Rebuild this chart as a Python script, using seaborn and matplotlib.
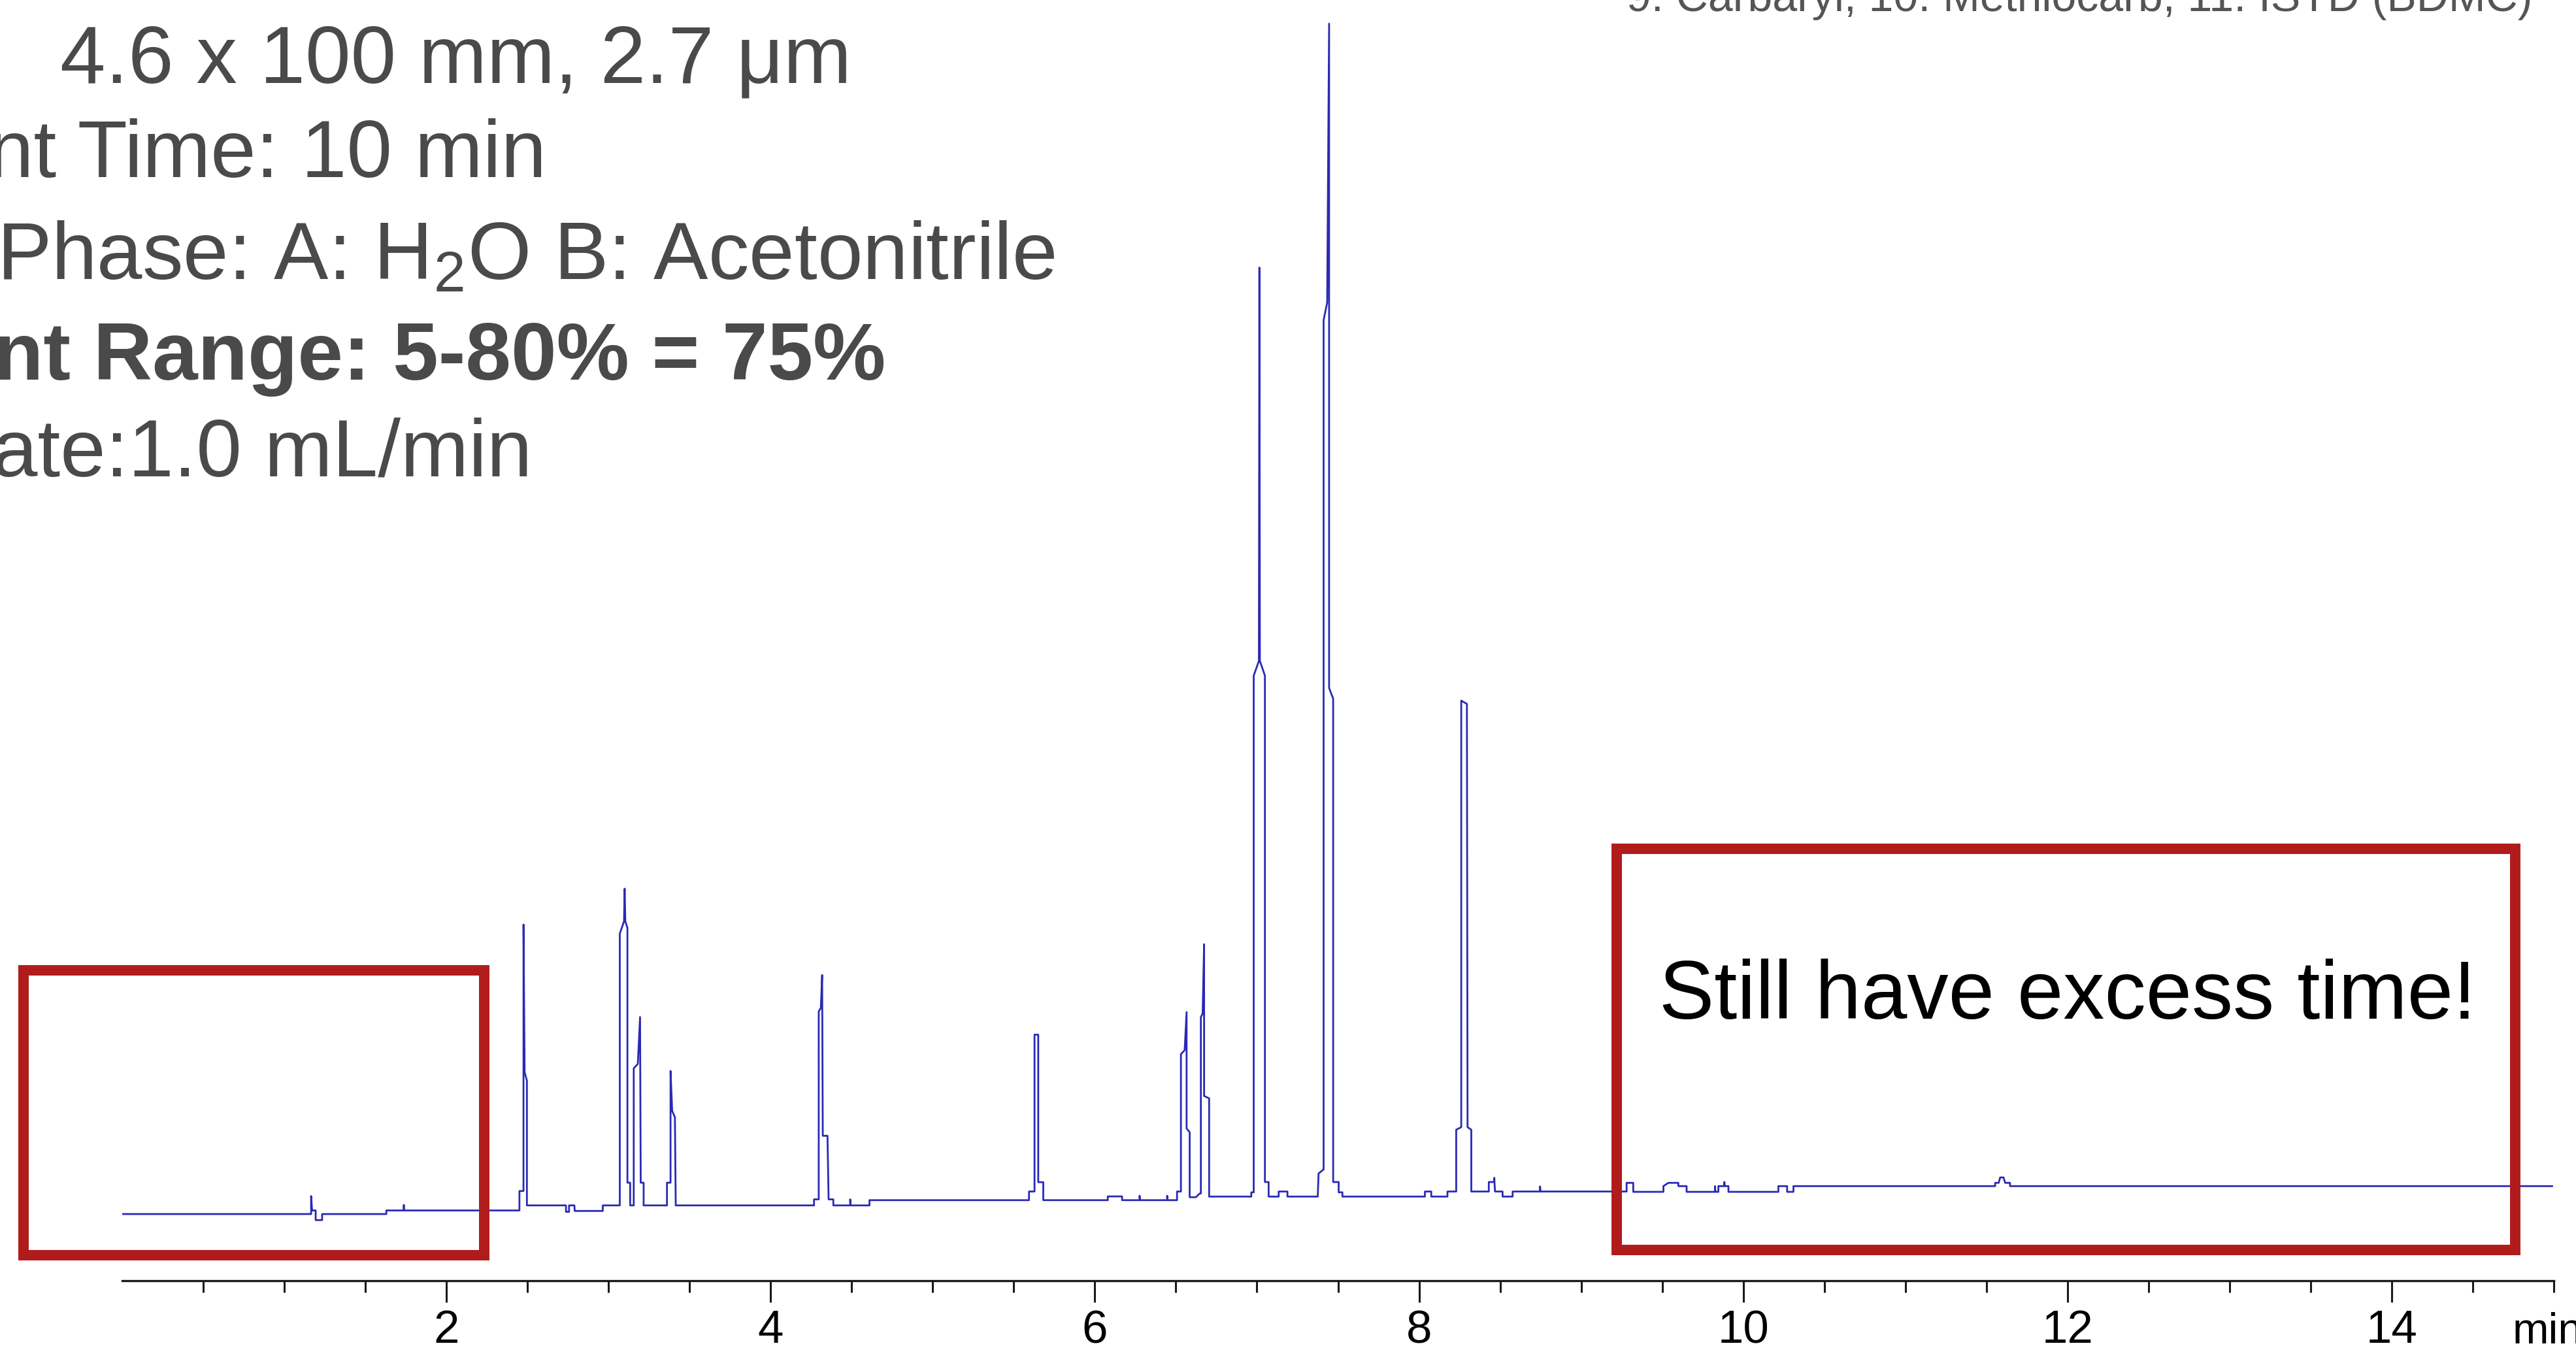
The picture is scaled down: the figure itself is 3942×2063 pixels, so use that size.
import matplotlib
matplotlib.use("Agg")
import matplotlib.pyplot as plt
import seaborn as sns
from matplotlib.patches import Rectangle

# chromatogram trace (minutes, detector signal)
time_min = [
    0.000, 1.166, 1.166, 1.172, 1.194, 1.194, 1.234, 1.234, 1.630, 1.630,
    1.736, 1.738, 1.740, 2.451, 2.451, 2.476, 2.476, 2.483, 2.497, 2.497,
    2.738, 2.738, 2.757, 2.757, 2.790, 2.792, 2.965, 2.965, 3.070, 3.070,
    3.096, 3.100, 3.104, 3.117, 3.117, 3.134, 3.134, 3.156, 3.156, 3.181,
    3.195, 3.199, 3.217, 3.217, 3.361, 3.361, 3.383, 3.383, 3.393, 3.410,
    3.415, 4.268, 4.268, 4.297, 4.297, 4.310, 4.318, 4.322, 4.351, 4.358,
    4.387, 4.387, 4.491, 4.491, 4.494, 4.610, 4.610, 5.594, 5.594, 5.628,
    5.628, 5.651, 5.651, 5.682, 5.682, 6.080, 6.080, 6.168, 6.168, 6.276,
    6.276, 6.279, 6.446, 6.446, 6.449, 6.507, 6.507, 6.531, 6.531, 6.554,
    6.566, 6.566, 6.585, 6.585, 6.623, 6.647, 6.654, 6.654, 6.665, 6.674,
    6.674, 6.705, 6.705, 6.965, 6.965, 6.980, 6.980, 7.012, 7.015, 7.018,
    7.049, 7.049, 7.072, 7.072, 7.134, 7.134, 7.188, 7.188, 7.375, 7.380,
    7.411, 7.411, 7.433, 7.445, 7.445, 7.470, 7.470, 7.504, 7.504, 7.527,
    7.527, 8.036, 8.036, 8.075, 8.075, 8.175, 8.175, 8.229, 8.229, 8.260,
    8.260, 8.295, 8.299, 8.322, 8.322, 8.430, 8.430, 8.462, 8.464, 8.468,
    8.515, 8.515, 8.577, 8.577, 8.746, 8.746, 8.749, 9.280, 9.280, 9.321,
    9.321, 9.507, 9.507, 9.537, 9.599, 9.599, 9.650, 9.650, 9.825, 9.825,
    9.828, 9.846, 9.846, 9.880, 9.883, 9.886, 9.908, 9.908, 10.216, 10.216,
    10.270, 10.270, 10.309, 10.309, 11.553, 11.553, 11.575, 11.584, 11.605, 11.615,
    11.645, 11.645, 14.990,
]
signal = [
    40.8, 40.8, 51.8, 43.0, 43.0, 37.1, 37.1, 40.8, 40.8, 43.0,
    43.0, 46.4, 43.0, 43.0, 54.9, 54.9, 218.0, 127.6, 122.5, 46.1,
    46.1, 42.2, 42.2, 46.1, 46.1, 42.7, 42.7, 46.1, 46.1, 212.5,
    220.0, 240.0, 220.0, 216.0, 60.0, 60.0, 46.1, 46.1, 130.0, 132.7,
    161.4, 60.0, 60.0, 46.1, 46.1, 60.0, 60.0, 128.4, 104.0, 100.0,
    46.1, 46.1, 49.8, 49.8, 164.8, 167.0, 187.1, 88.7, 88.7, 49.8,
    49.8, 46.1, 46.1, 49.8, 46.1, 46.1, 49.3, 49.3, 54.6, 54.6,
    150.6, 150.6, 60.3, 60.3, 49.3, 49.3, 51.6, 51.6, 49.3, 49.3,
    52.0, 49.3, 49.3, 52.0, 49.3, 49.3, 54.6, 54.6, 138.7, 141.1,
    164.4, 93.2, 90.9, 51.1, 51.1, 53.4, 53.4, 161.3, 163.6, 206.0,
    113.1, 111.6, 51.5, 51.5, 54.1, 54.1, 370.4, 379.4, 620.2, 379.4,
    370.4, 60.4, 60.4, 51.5, 51.5, 54.6, 54.6, 51.5, 51.5, 65.6,
    68.1, 588.0, 598.8, 769.5, 362.8, 356.4, 60.4, 60.4, 54.1, 54.1,
    51.5, 51.5, 54.6, 54.6, 51.5, 51.5, 54.6, 54.6, 92.4, 94.0,
    355.1, 353.1, 94.0, 92.4, 54.6, 54.6, 60.4, 60.4, 63.0, 54.6,
    54.6, 51.5, 51.5, 54.6, 54.6, 57.7, 54.6, 54.6, 59.9, 59.9,
    54.4, 54.4, 57.9, 59.9, 59.9, 57.9, 57.9, 54.4, 54.4, 57.9,
    54.4, 54.4, 57.9, 57.9, 60.5, 57.9, 57.9, 54.4, 54.4, 57.9,
    57.9, 54.4, 54.4, 57.9, 57.9, 59.9, 59.9, 63.2, 63.2, 59.9,
    59.9, 57.9, 57.9,
]

major_ticks = [2, 4, 6, 8, 10, 12, 14]
tick_labels = ["2", "4", "6", "8", "10", "12", "14"]
minor_ticks = [0.5, 1, 1.5, 2.5, 3, 3.5, 4.5, 5, 5.5, 6.5, 7, 7.5, 8.5, 9, 9.5,
               10.5, 11, 11.5, 12.5, 13, 13.5, 14.5, 15]

info_lines = [
    "4.6 x 100 mm, 2.7 \u03bcm",
    "nt Time: 10 min",
    "Phase: A: H$_\\mathrm{2}$O B: Acetonitrile",
    "nt Range: 5-80% = 75%",
    "ate:1.0 mL/min",
]
legend_text = "9. Carbaryl, 10. Methiocarb, 11. ISTD (BDMC)"
callout = "Still have excess time!"

W, H = 3942, 2063

sns.set_style("white")
plt.rcParams["font.family"] = ["Liberation Sans", "DejaVu Sans"]
plt.rcParams["mathtext.fontset"] = "custom"
plt.rcParams["mathtext.rm"] = "Liberation Sans"
plt.rcParams["mathtext.it"] = "Liberation Sans:italic"
plt.rcParams["mathtext.bf"] = "Liberation Sans:bold"

fig = plt.figure(figsize=(W / 100, H / 100), dpi=100)
ax = fig.add_axes([186.8 / W, 103 / H, 3721.5 / W, 1960 / H])

sns.lineplot(x=time_min, y=signal, sort=False, estimator=None,
             color="#2a2ab4", linewidth=2.0, ax=ax)

ax.set_xlim(0, 15)
ax.set_ylim(0, 784)
for side in ["left", "right", "top"]:
    ax.spines[side].set_visible(False)
ax.spines["bottom"].set_linewidth(2.4)
ax.spines["bottom"].set_color("#1a1a1a")
ax.set_yticks([])
ax.set_xticks(major_ticks)
ax.set_xticklabels(tick_labels, fontsize=51)
ax.set_xticks(minor_ticks, minor=True)
ax.tick_params(axis="x", which="both", bottom=True, direction="out",
               color="#1a1a1a", width=2.2)
ax.tick_params(axis="x", which="major", length=24, pad=8, labelcolor="black")
ax.tick_params(axis="x", which="minor", length=13)
ax.set_xlabel("")
ax.set_ylabel("")

# red call-out boxes
box_red = "#b01c1c"
ax.add_patch(Rectangle((-0.609, 15.6), 2.842, 174.4, fill=False,
                       edgecolor=box_red, linewidth=11.5, joinstyle="miter",
                       clip_on=False, zorder=3))
ax.add_patch(Rectangle((9.219, 18.8), 5.541, 245.6, fill=False,
                       edgecolor=box_red, linewidth=11.5, joinstyle="miter",
                       clip_on=False, zorder=3))
ax.text(9.481, 160.4, callout, fontsize=91, color="black",
        ha="left", va="baseline")

# method text, cut off at the left edge
text_x = [92, -18, -5, -10, -12]
text_y = [127, 271, 427, 581, 728]
for i, line in enumerate(info_lines):
    fig.text(text_x[i] / W, 1 - text_y[i] / H, line, fontsize=90,
             color="#4a4a4a", ha="left", va="baseline",
             fontweight="bold" if i == 3 else "normal")

# compound list, cut off at the top edge
fig.text(2489 / W, 1 - 17 / H, legend_text, fontsize=49, color="#555555",
         ha="left", va="baseline")

fig.text(3845 / W, 1 - 2056 / H, "min", fontsize=48, color="black",
         ha="left", va="baseline")

fig.savefig("out.png", dpi=100)
